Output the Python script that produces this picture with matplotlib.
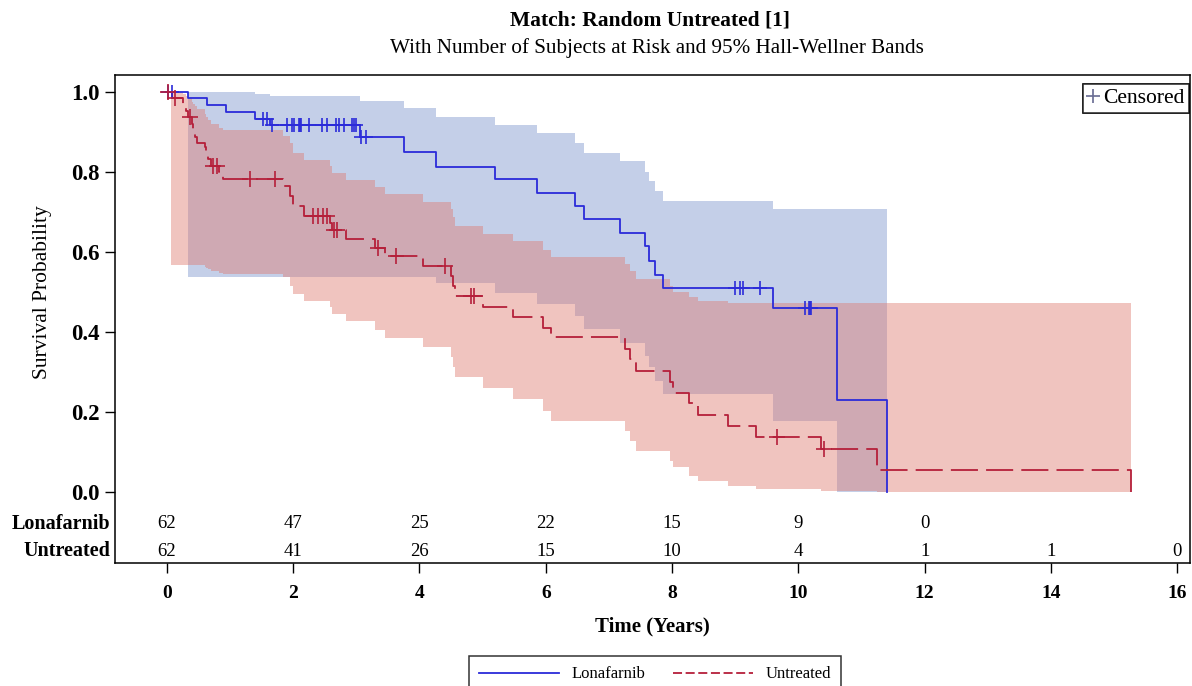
import numpy as np
import matplotlib
matplotlib.use('Agg')
import matplotlib.pyplot as plt
from matplotlib.lines import Line2D

plt.rcParams['font.family'] = ['Liberation Serif', 'DejaVu Serif']

# curvas Kaplan-Meier
lona_t = [0, 0.34, 0.64, 0.93, 1.40, 1.63, 3.06, 3.75, 4.26, 5.19, 5.86, 6.47, 6.61,
          7.17, 7.57, 7.64, 7.73, 7.85, 9.59, 10.61, 11.40]
lona_s = [1.0, 0.984, 0.967, 0.950, 0.933, 0.917, 0.886, 0.849, 0.813, 0.782, 0.7475,
          0.715, 0.682, 0.647, 0.615, 0.576, 0.5425, 0.509, 0.459, 0.229, 0.0]
lona_cens = [0.02, 0.08, 1.53, 1.59, 1.67, 1.90, 1.99, 2.01, 2.09, 2.11, 2.13, 2.25,
             2.46, 2.54, 2.68, 2.73, 2.80, 2.94, 2.96, 2.99, 3.08, 3.15, 9.00, 9.07,
             9.13, 9.39, 10.11, 10.16, 10.18, 10.20]

unt_t = [0, 0.08, 0.26, 0.30, 0.34, 0.40, 0.42, 0.45, 0.48, 0.60, 0.62, 0.65, 0.70,
         0.83, 0.89, 1.84, 1.95, 2.00, 2.17, 2.58, 2.62, 2.84, 3.30, 3.45, 4.06, 4.50,
         4.53, 4.56, 5.00, 5.48, 5.95, 6.09, 7.25, 7.33, 7.43, 7.96, 8.01, 8.27, 8.41,
         8.88, 9.33, 10.36, 11.24, 15.26]
unt_s = [1.0, 0.984, 0.968, 0.952, 0.936, 0.919, 0.903, 0.887, 0.871, 0.862, 0.848,
         0.832, 0.815, 0.80, 0.782, 0.765, 0.74, 0.715, 0.69, 0.673, 0.655, 0.632, 0.61,
         0.59, 0.565, 0.54, 0.515, 0.49, 0.4625, 0.4375, 0.41, 0.386, 0.357, 0.332,
         0.3025, 0.275, 0.2475, 0.223, 0.1925, 0.165, 0.138, 0.107, 0.054, 0.0]
unt_cens = [0.02, 0.13, 0.36, 0.73, 0.79, 1.31, 1.71, 2.31, 2.40, 2.47, 2.54, 2.65,
            2.70, 3.34, 3.63, 4.40, 4.82, 4.87, 9.66, 10.41]

# bandas Hall-Wellner 95%
lona_band_t = [0.34, 1.40, 1.63, 3.06, 3.75, 4.26, 5.19, 5.86, 6.47, 6.61, 7.17, 7.57,
               7.64, 7.73, 7.85, 9.59, 10.61, 11.40]
lona_upper = [1.0, 0.994, 0.99, 0.976, 0.959, 0.938, 0.9175, 0.896, 0.871, 0.848, 0.826,
              0.80, 0.7775, 0.7525, 0.728, 0.707, 0.707, 0.707]
lona_lower = [0.5375, 0.5375, 0.5375, 0.5375, 0.5375, 0.523, 0.498, 0.469, 0.44, 0.407,
              0.373, 0.34, 0.311, 0.2775, 0.244, 0.1775, 0.0, 0.0]

unt_band_t = [0.07, 0.26, 0.30, 0.34, 0.40, 0.42, 0.45, 0.48, 0.60, 0.62, 0.65, 0.70,
              0.83, 0.89, 1.84, 1.95, 2.00, 2.17, 2.58, 2.62, 2.84, 3.30, 3.45, 4.06,
              4.50, 4.53, 4.56, 5.00, 5.48, 5.95, 6.09, 7.25, 7.33, 7.43, 7.96, 8.01,
              8.27, 8.41, 8.88, 9.33, 10.36, 11.24, 15.26]
unt_upper = [1.0, 0.995, 0.99, 0.985, 0.975, 0.97, 0.965, 0.958, 0.944, 0.937, 0.93,
             0.92, 0.91, 0.904, 0.89, 0.873, 0.848, 0.829, 0.815, 0.798, 0.779, 0.761,
             0.744, 0.725, 0.707, 0.686, 0.665, 0.644, 0.626, 0.605, 0.586, 0.569,
             0.5525, 0.532, 0.515, 0.50, 0.486, 0.4775, 0.472, 0.472, 0.472, 0.472, 0.472]
unt_lower = [0.567, 0.567, 0.567, 0.567, 0.567, 0.567, 0.567, 0.567, 0.562, 0.559, 0.556,
             0.552, 0.548, 0.545, 0.536, 0.515, 0.494, 0.4775, 0.461, 0.444, 0.426,
             0.404, 0.384, 0.3625, 0.3375, 0.3125, 0.288, 0.259, 0.232, 0.2025, 0.1775,
             0.1525, 0.1275, 0.1025, 0.0775, 0.061, 0.04, 0.0275, 0.015, 0.0075, 0.0025,
             0.0, 0.0]

# tabla de sujetos en riesgo
risk_times = [0, 2, 4, 6, 8, 10, 12, 14, 16]
lona_risk = [62, 47, 25, 22, 15, 9, 0]
unt_risk = [62, 41, 26, 15, 10, 4, 1, 1, 0]

blue = '#2b2bd9'
red = '#b51f3a'
blue_fill = '#7c96cc'
red_fill = '#de7c73'


def surv_at(times, surv, t):
    i = np.searchsorted(times, t, side='right') - 1
    return np.asarray(surv)[i]


fig = plt.figure(figsize=(11.92, 6.86), dpi=100)
ax = fig.add_axes([115 / 1192, 1 - 563 / 686, (1190 - 115) / 1192, (563 - 75) / 686])

ax.fill_between(lona_band_t, lona_lower, lona_upper, step='post',
                color=blue_fill, alpha=0.45, lw=0)
ax.fill_between(unt_band_t, unt_lower, unt_upper, step='post',
                color=red_fill, alpha=0.45, lw=0)

ax.step(lona_t, lona_s, where='post', color=blue, lw=1.3)
ax.step(unt_t, unt_s, where='post', color=red, lw=1.3, linestyle=(0, (15, 4.5)))

ax.plot(lona_cens, surv_at(lona_t, lona_s, lona_cens), '+', color=blue, ms=10, mew=1.2)
ax.plot(unt_cens, surv_at(unt_t, unt_s, unt_cens), '+', color=red, ms=11, mew=1.2)

ax.set_xlim(-0.82, 16.2)
ax.set_ylim(-0.178, 1.042)
ax.set_xticks(range(0, 17, 2))
ax.set_yticks([0, 0.2, 0.4, 0.6, 0.8, 1.0])
ax.set_yticklabels(['0.0', '0.2', '0.4', '0.6', '0.8', '1.0'])
ax.tick_params(direction='out', length=7, width=1, pad=4)
ax.tick_params(axis='x', labelsize=14, pad=9)
ax.tick_params(axis='y', labelsize=16.5, pad=4)
for lab in ax.get_xticklabels() + ax.get_yticklabels():
    lab.set_fontweight('bold')
for sp in ax.spines.values():
    sp.set_linewidth(1.1)

ax.set_ylabel('Survival Probability', fontsize=15.5)
ax.yaxis.set_label_coords((52 - 115) / 1075, (563 - 292) / 488)
ax.set_xlabel('Time (Years)', fontsize=15, fontweight='bold', labelpad=10)

# números en riesgo
for t, n in zip(risk_times, lona_risk):
    ax.text(t, -0.08, str(n), ha='center', va='center', fontsize=13.5)
for t, n in zip(risk_times, unt_risk):
    ax.text(t, -0.148, str(n), ha='center', va='center', fontsize=13.5)
ax.text(-0.9, -0.08, 'Lonafarnib', ha='right', va='center', fontsize=14.5,
        fontweight='bold', clip_on=False)
ax.text(-0.9, -0.148, 'Untreated', ha='right', va='center', fontsize=14.5,
        fontweight='bold', clip_on=False)

cens_handle = Line2D([], [], marker='+', color='#6b6f95', ls='none', ms=10, mew=1.2)
leg1 = ax.legend([cens_handle], ['Censored'], loc='upper right', fontsize=15.5,
                 bbox_to_anchor=((1189 - 115) / 1075, (563 - 84) / 488),
                 frameon=True, fancybox=False, edgecolor='black', handlelength=0.5,
                 handletextpad=0.25, borderpad=0.2, borderaxespad=0)
leg1.get_frame().set_linewidth(1.1)
ax.add_artist(leg1)

h1 = Line2D([], [], color=blue, lw=1.3)
h2 = Line2D([], [], color=red, lw=1.3, linestyle=(0, (5, 2)))
leg2 = fig.legend([h1, h2], ['Lonafarnib', 'Untreated'], loc='upper center',
                  bbox_to_anchor=(655 / 1192, 1 - 648 / 686), ncol=2, fontsize=12,
                  frameon=True, fancybox=False, edgecolor='black', handlelength=4.8,
                  columnspacing=1.6, borderpad=0.6)
leg2.get_frame().set_linewidth(1.1)

fig.text(650 / 1192, 1 - 20 / 686, 'Match: Random Untreated [1]', ha='center',
         va='center', fontsize=15.5, fontweight='bold')
fig.text(657 / 1192, 1 - 48 / 686,
         'With Number of Subjects at Risk and 95% Hall-Wellner Bands', ha='center',
         va='center', fontsize=15.2)

fig.savefig('out.png', dpi=100)
